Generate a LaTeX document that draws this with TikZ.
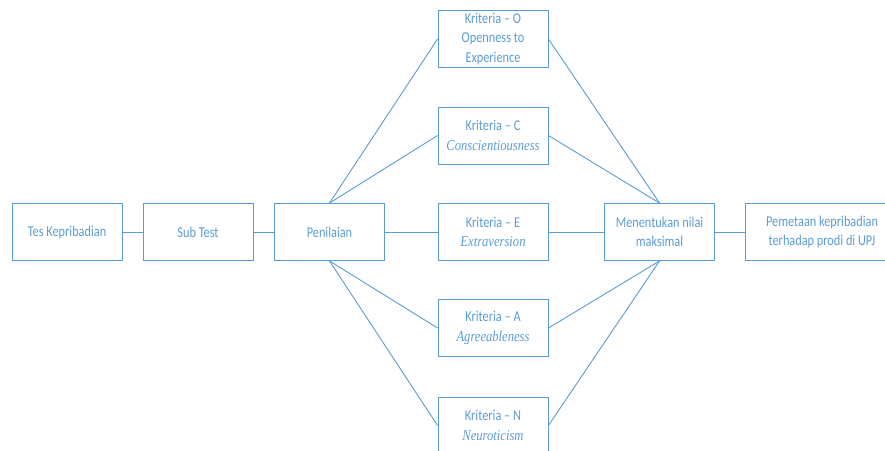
\documentclass[tikz,border=0pt]{standalone}
\usepackage{fontspec}
\setmainfont{Carlito}[FakeStretch=0.82]
\newfontfamily\kritfont{Liberation Serif}[FakeStretch=0.84]
\usepackage{xcolor}
\definecolor{officeblue}{HTML}{5B9BD5}
\usetikzlibrary{positioning}

\begin{document}
\begin{tikzpicture}[x=1pt, y=-1pt,
    box/.style={draw=officeblue, line width=0.9pt, text=officeblue, minimum width=110pt, minimum height=57pt, align=center, inner sep=2pt, font=\fontsize{15}{19.5}\selectfont},
    link/.style={draw=officeblue, line width=0.9pt}]

    \useasboundingbox (0,0) rectangle (885,450);
    \clip (0,0) rectangle (885,450);

    % Main row
    \node[box] (tes) at (67,232) {Tes Kepribadian};
    \node[box] (sub) at (198,232) {Sub Test};
    \node[box] (nilai) at (329.5,232) {Penilaian};

    % Criteria
    \node[box] (krO) at (493,39) {Kriteria -- O\\Openness to\\Experience};
    \node[box] (krC) at (493,135.5) {Kriteria -- C\\{\kritfont\itshape Conscientiousness}};
    \node[box] (krE) at (493,232) {Kriteria -- E\\{\kritfont\itshape Extraversion}};
    \node[box] (krA) at (493,328) {Kriteria -- A\\{\kritfont\itshape Agreeableness}};
    \node[box] (krN) at (493,425.5) {Kriteria -- N\\{\kritfont\itshape Neuroticism}};

    % Result
    \node[box] (maks) at (659.5,232) {Menentukan nilai\\maksimal};
    \node[box, minimum width=154pt] (peta) at (822,232) {Pemetaan kepribadian\\terhadap prodi di UPJ};

    % Connectors
    \draw[link] (tes) -- (sub);
    \draw[link] (sub) -- (nilai);
    \draw[link] (nilai) -- (krE);
    \draw[link] (krE) -- (maks);
    \draw[link] (maks) -- (peta);
    \foreach \k in {krO, krC} {
        \draw[link] (nilai.north) -- (\k.west);
        \draw[link] (\k.east) -- (maks.north);
    }
    \foreach \k in {krA, krN} {
        \draw[link] (nilai.south) -- (\k.west);
        \draw[link] (\k.east) -- (maks.south);
    }

\end{tikzpicture}
\end{document}
